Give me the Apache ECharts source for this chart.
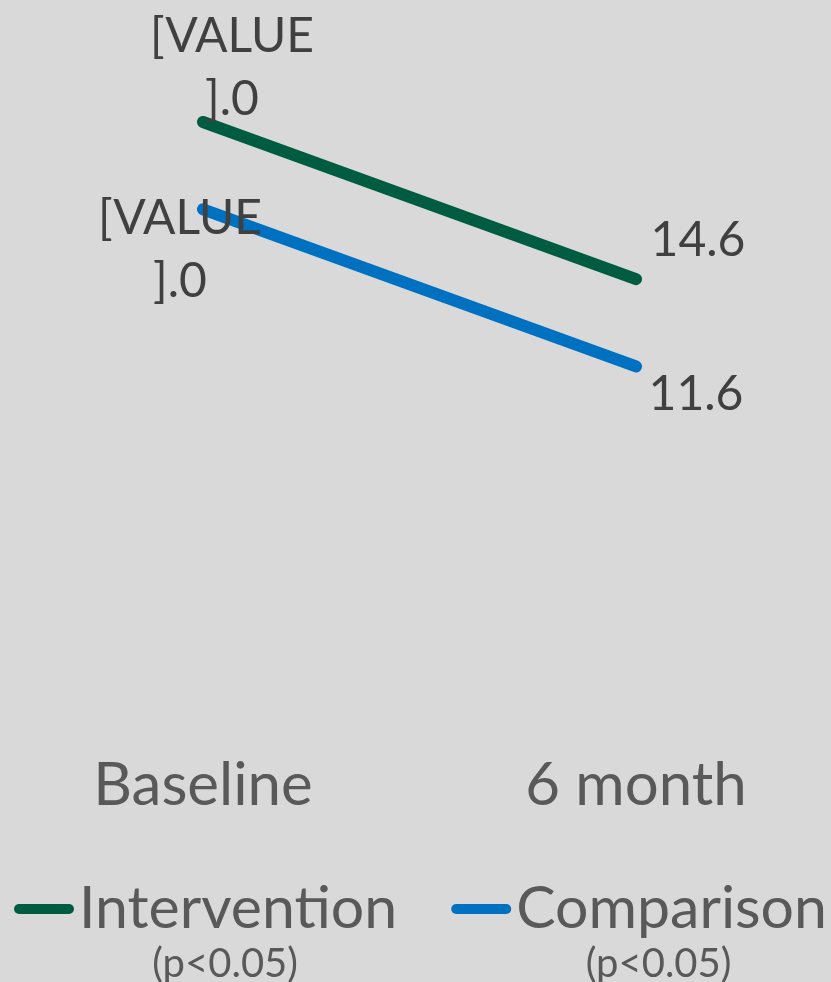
<!DOCTYPE html>
<html>
<head>
<meta charset="utf-8">
<script src="https://cdn.jsdelivr.net/npm/echarts@6/dist/echarts.min.js"></script>
<style>
  html, body { margin: 0; padding: 0; background: #d9d9d9; }
  #chart { width: 831px; height: 982px; }
</style>
</head>
<body>
<div id="chart"></div>
<script>
const categories = ['Baseline', '6 month']
const interventionValues = [20.0, 14.6]
const comparisonValues = [17.0, 11.6]
const interventionLabels = ['[VALUE\n].0', '14.6']
const comparisonLabels = ['[VALUE\n].0', '11.6']
const seriesNames = ['Intervention', 'Comparison']
const pNote = '(p<0.05)'

const FONT = 'Lato, "Open Sans", sans-serif'
const GREEN = '#005c40'
const BLUE = '#0070c0'

// label offsets per point (relative to the point, label centred)
const interventionOffsets = [[29, -54], [62, -39]]
const comparisonOffsets = [[-23, 41], [60, 28]]

const makeData = (values, offsets) => values.map((v, i) => ({
  value: v,
  label: { offset: offsets[i] }
}))

const chart = echarts.init(document.getElementById('chart'))
const option = {
  backgroundColor: '#d9d9d9',
  animation: false,
  grid: { left: 203, right: 195, top: 122, bottom: 278, containLabel: false },
  xAxis: {
    type: 'category',
    data: categories,
    boundaryGap: false,
    axisLine: { show: false },
    axisTick: { show: false },
    axisLabel: { fontFamily: FONT, fontSize: 60, color: '#595959', margin: 52 }
  },
  yAxis: {
    type: 'value',
    min: 0,
    max: 20,
    show: false,
    splitLine: { show: false }
  },
  legend: {
    top: 834,
    left: 14,
    width: 900,
    padding: 0,
    itemGap: 54,
    itemWidth: 60,
    itemHeight: 11,
    icon: 'path://M5,0 H55 A5,5 0 0 1 55,10 H5 A5,5 0 0 1 5,0 Z',
    formatter: name => `{c| }\n{a|${name}}\n{b|${pNote}}`,
    textStyle: {
      fontFamily: FONT,
      color: '#595959',
      rich: {
        c: { fontSize: 40, lineHeight: 46 },
        a: { fontFamily: FONT, fontSize: 59, lineHeight: 64, color: '#595959', align: 'center' },
        b: { fontFamily: FONT, fontSize: 40, lineHeight: 46, color: '#595959', align: 'center', padding: [0, 26, 0, 0] }
      }
    },
    data: seriesNames
  },
  series: [
    {
      name: seriesNames[0],
      type: 'line',
      data: makeData(interventionValues, interventionOffsets),
      symbol: 'circle',
      symbolSize: 1,
      lineStyle: { color: GREEN, width: 12, cap: 'round' },
      itemStyle: { color: GREEN },
      label: {
        show: true,
        position: 'inside',
        align: 'center',
        verticalAlign: 'middle',
        fontFamily: FONT,
        fontSize: 48,
        lineHeight: 63,
        color: '#404040',
        formatter: p => interventionLabels[p.dataIndex]
      }
    },
    {
      name: seriesNames[1],
      type: 'line',
      data: makeData(comparisonValues, comparisonOffsets),
      symbol: 'circle',
      symbolSize: 1,
      lineStyle: { color: BLUE, width: 12, cap: 'round' },
      itemStyle: { color: BLUE },
      label: {
        show: true,
        position: 'inside',
        align: 'center',
        verticalAlign: 'middle',
        fontFamily: FONT,
        fontSize: 48,
        lineHeight: 63,
        color: '#404040',
        formatter: p => comparisonLabels[p.dataIndex]
      }
    }
  ]
}
chart.setOption(option)
</script>
</body>
</html>
